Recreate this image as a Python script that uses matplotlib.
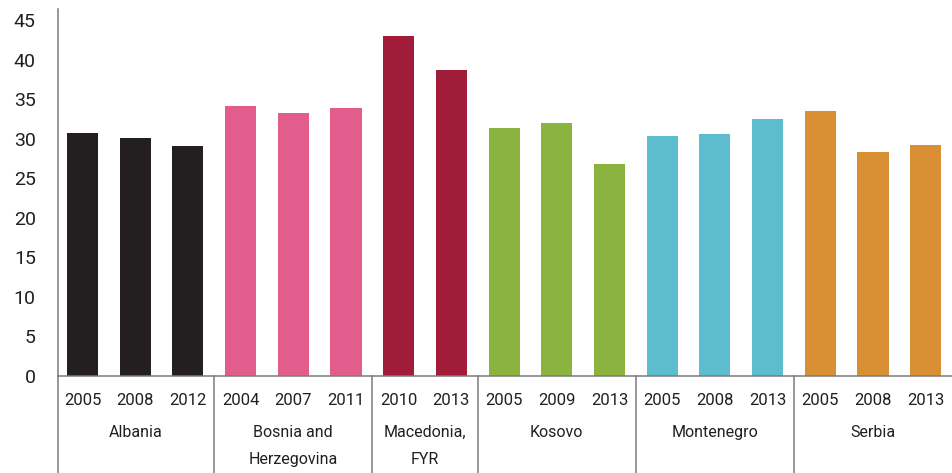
import matplotlib.pyplot as plt
import numpy as np

countries = ["Albania", "Bosnia and\nHerzegovina", "Macedonia,\nFYR", "Kosovo", "Montenegro", "Serbia"]
years = [
    ["2005", "2008", "2012"],
    ["2004", "2007", "2011"],
    ["2010", "2013"],
    ["2005", "2009", "2013"],
    ["2005", "2008", "2013"],
    ["2005", "2008", "2013"],
]
values = [
    [30.7, 30.1, 29.1],
    [34.2, 33.3, 33.9],
    [43.0, 38.7],
    [31.4, 32.0, 26.8],
    [30.4, 30.6, 32.5],
    [33.5, 28.3, 29.2],
]
colors = ["#231f20", "#e35d8c", "#a01c38", "#8bb340", "#5dbccd", "#d98f34"]

plt.rcParams['font.family'] = ['Roboto', 'DejaVu Sans']

fig = plt.figure(figsize=(9.52, 4.73), dpi=100)
ax = fig.add_axes([58 / 952, 1 - 375.5 / 473, 1 - 58 / 952, 366.5 / 473])

line_col = "#7a7a7a"
trans = ax.get_xaxis_transform()
bottom = -(473 - 375.5) / 366.5

pos = 0
for g, name in enumerate(countries):
    xs = np.arange(pos, pos + len(values[g]))
    ax.bar(xs, values[g], width=0.59, color=colors[g])
    for x, yr in zip(xs, years[g]):
        ax.text(x, -0.068, yr, transform=trans, ha="center", va="center", fontsize=12, color="#231f20")
    mid = xs.mean()
    for k, line in enumerate(name.split("\n")):
        ax.text(mid, -0.156 - k * 0.074, line, transform=trans, ha="center", va="center",
                fontsize=11.5, color="#231f20")
    if g > 0:
        ax.plot([pos - 0.5, pos - 0.5], [0, bottom], transform=trans, color=line_col,
                lw=1.1, clip_on=False)
    pos += len(values[g])

ax.plot([-0.465, -0.465], [0, bottom], transform=trans, color=line_col, lw=1.1, clip_on=False)

ax.set_xlim(-0.465, pos - 0.5)
ax.set_ylim(0, 46.45)
ax.set_yticks(range(0, 50, 5))
ax.tick_params(axis="y", length=0, pad=16, labelsize=14, labelcolor="#231f20")
ax.set_xticks([])
for s in ["top", "right"]:
    ax.spines[s].set_visible(False)
ax.spines["left"].set_color(line_col)
ax.spines["left"].set_linewidth(1.1)
ax.spines["bottom"].set_color(line_col)
ax.spines["bottom"].set_linewidth(1.1)

fig.savefig("out.png", dpi=100)
